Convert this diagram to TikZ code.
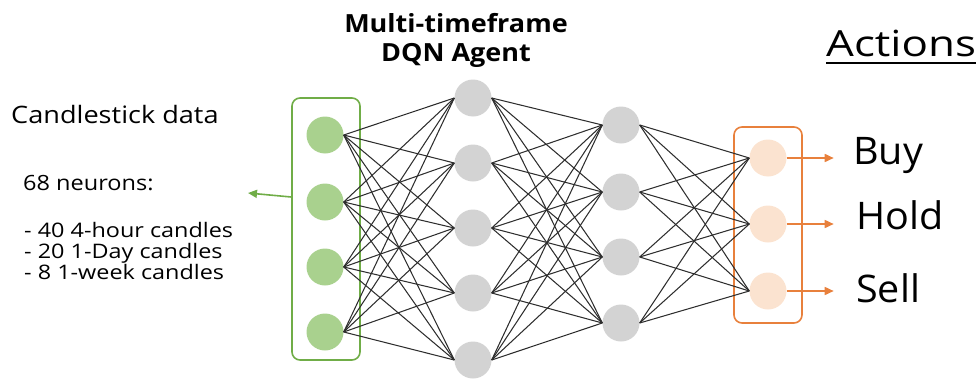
\documentclass[tikz,border=0pt]{standalone}
\usepackage{fontspec}
\setmainfont{Open Sans}
\usetikzlibrary{arrows.meta}

\definecolor{ingreen}{HTML}{A9D18E}
\definecolor{boxgreen}{HTML}{70AD47}
\definecolor{hidgray}{HTML}{D3D3D3}
\definecolor{outpeach}{HTML}{FBE3D0}
\definecolor{boxorange}{HTML}{E8803C}
\definecolor{edgegray}{HTML}{2E2E2E}

\tikzset{
  neuron/.style={circle, minimum size=37pt, inner sep=0pt, draw=none},
  inneuron/.style={neuron, fill=ingreen},
  hidneuron/.style={neuron, fill=hidgray},
  outneuron/.style={neuron, fill=outpeach},
  edge/.style={draw=edgegray, line width=1.05pt},
  layerbox/.style={rectangle, rounded corners=8pt, line width=1.6pt, inner sep=0pt},
  outarrow/.style={draw=boxorange, line width=1.6pt, -{Triangle[length=9pt,width=8pt]}},
  inarrow/.style={draw=boxgreen, line width=1.6pt, -{Triangle[length=9pt,width=8pt]}},
  label/.style={anchor=base west, inner sep=0pt},
  listline/.style={label, font=\fontsize{20}{22}\selectfont}
}
% horizontally widened text
\newcommand{\wide}[2]{\scalebox{#1}[1]{#2}}

\begin{document}
\begin{tikzpicture}[x=1pt, y=-1pt]
\useasboundingbox (0,0) rectangle (979,380);

% layer frames
\node[layerbox, draw=boxgreen, minimum width=68pt, minimum height=262pt] (inbox) at (326,229) {};
\node[layerbox, draw=boxorange, minimum width=68pt, minimum height=196pt] (outbox) at (768,225) {};

% input layer
\foreach \i/\y in {1/135, 2/202, 3/267, 4/332}
  \node[inneuron] (i\i) at (325,\y) {};
% first hidden layer
\foreach \i/\y in {1/98, 2/163, 3/228, 4/293, 5/360}
  \node[hidneuron] (h\i) at (473,\y) {};
% second hidden layer
\foreach \i/\y in {1/125, 2/192, 3/257, 4/323}
  \node[hidneuron] (g\i) at (621,\y) {};
% output layer
\foreach \i/\y in {1/158, 2/224, 3/291}
  \node[outneuron] (o\i) at (768,\y) {};

% fully connected weights
\foreach \a in {1,...,4}
  \foreach \b in {1,...,5}
    \draw[edge] (i\a.east) -- (h\b.west);
\foreach \a in {1,...,5}
  \foreach \b in {1,...,4}
    \draw[edge] (h\a.east) -- (g\b.west);
\foreach \a in {1,...,4}
  \foreach \b in {1,...,3}
    \draw[edge] (g\a.east) -- (o\b.west);

% title
\node[anchor=base, inner sep=0pt, font=\bfseries\fontsize{25}{29}\selectfont] (title1) at (456,32) {\wide{1.08}{Multi-timeframe}};
\node[anchor=base, inner sep=0pt, font=\bfseries\fontsize{25}{29}\selectfont] (title2) at (456,61) {\wide{1.08}{DQN Agent}};

% input description
\node[label, font=\fontsize{24}{29}\selectfont] (cdata) at (11,123) {\wide{1.13}{Candlestick data}};
\node[listline, font=\fontsize{21}{22}\selectfont] (neur) at (23,190) {\wide{1.12}{68 neurons:}};
\node[listline] (l1) at (24,237) {\wide{1.17}{- 40 4-hour candles}};
\node[listline] (l2) at (24,258) {\wide{1.17}{- 20 1-Day candles}};
\node[listline] (l3) at (24,279) {\wide{1.17}{- 8 1-week candles}};
\coordinate (intip) at (248,193);
\draw[inarrow] ([yshift=32pt]inbox.west) -- (intip);

% actions
\node[label, font=\fontsize{36}{40}\selectfont] (acts) at (826,56) {\wide{1.22}{Actions}};
\draw[line width=2.4pt] ([yshift=-7pt]acts.base west) -- ([yshift=-7pt]acts.base east);
\node[label, font=\fontsize{38}{40}\selectfont] (buy) at (853,164) {\wide{1.04}{Buy}};
\node[label, font=\fontsize{38}{40}\selectfont] (hold) at (856,229) {\wide{1.04}{Hold}};
\node[label, font=\fontsize{38}{40}\selectfont] (sell) at (856,302) {\wide{1.04}{Sell}};
\foreach \i in {1,2,3}
  \draw[outarrow] (o\i.east) -- ++(47,0);
\end{tikzpicture}
\end{document}
